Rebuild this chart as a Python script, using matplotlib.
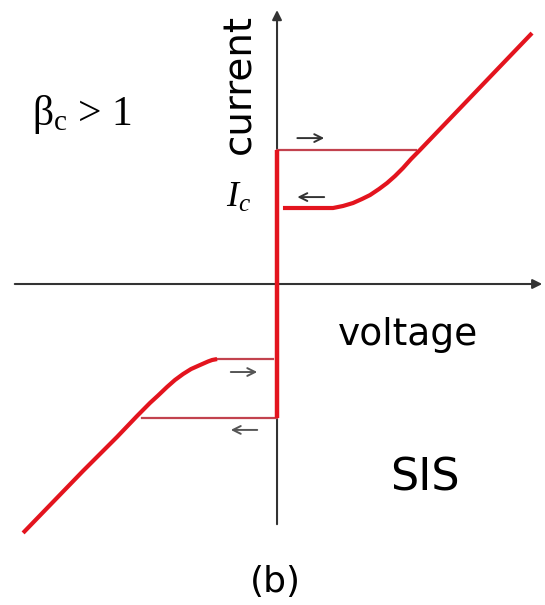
import matplotlib
matplotlib.use("Agg")
import matplotlib.pyplot as plt

plt.rcParams['mathtext.fontset'] = 'custom'
plt.rcParams['mathtext.rm'] = 'Liberation Serif'
plt.rcParams['mathtext.it'] = 'Liberation Serif:italic'

# I-V data of the hysteretic junction (voltage, current in units of Ic)
v_right = [0.044, 0.415, 0.489, 0.563, 0.630, 0.689, 0.756, 0.815, 0.874, 0.933, 0.993, 1.059, 1.889]
i_right = [0.563, 0.563, 0.578, 0.600, 0.630, 0.659, 0.704, 0.748, 0.800, 0.859, 0.926, 0.993, 1.859]

v_left = [-0.444, -0.481, -0.511, -0.570, -0.637, -0.696, -0.756, -0.815, -0.881, -0.941, -1.037, -1.185, -1.437, -1.881]
i_left = [-0.556, -0.563, -0.574, -0.600, -0.630, -0.667, -0.711, -0.763, -0.826, -0.881, -0.978, -1.133, -1.385, -1.844]

# supercurrent branch and switching / retrapping jumps
v_super = [0.0, 0.0]
i_super = [-0.993, 0.993]
v_switch_up = [0.0, 1.03]
i_switch_up = [0.993, 0.993]
v_switch_dn = [-1.0, 0.0]
i_switch_dn = [-0.993, -0.993]
v_retrap_dn = [-0.444, -0.03]
i_retrap_dn = [-0.556, -0.556]

# direction arrows: (v_start, v_end, current)
sweep_arrows = [(0.13, 0.37, 1.081, '#333333'),
                (0.37, 0.13, 0.644, '#333333'),
                (-0.363, -0.126, -0.652, '#555555'),
                (-0.126, -0.363, -1.081, '#555555')]

red = '#e3141e'
thin = '#c2424e'

fig = plt.figure(figsize=(5.45, 6.05), dpi=100)
ax = fig.add_axes([0, 0, 1, 1])
ax.set_xlim(-2.052, 1.985)
ax.set_ylim(-2.378, 2.104)
ax.axis('off')

# axes with arrow heads
ax.annotate('', xy=(1.985, 0), xytext=(-1.963, 0),
            arrowprops=dict(arrowstyle='-|>', lw=1.5, color='#333333', mutation_scale=14), zorder=1)
ax.annotate('', xy=(0, 2.05), xytext=(0, -1.8),
            arrowprops=dict(arrowstyle='-|>', lw=1.5, color='#333333', mutation_scale=14), zorder=1)

ax.plot(v_switch_up, i_switch_up, color=thin, lw=1.6, zorder=2)
ax.plot(v_switch_dn, i_switch_dn, color=thin, lw=1.6, zorder=2)
ax.plot(v_retrap_dn, i_retrap_dn, color=thin, lw=1.6, zorder=2)
ax.plot(v_right, i_right, color=red, lw=3, solid_capstyle='butt', solid_joinstyle='round', zorder=3)
ax.plot(v_left, i_left, color=red, lw=3, solid_capstyle='butt', solid_joinstyle='round', zorder=3)
ax.plot(v_super, i_super, color=red, lw=3.2, solid_capstyle='butt', zorder=3)

for v0, v1, cur, col in sweep_arrows:
    ax.annotate('', xy=(v1, cur), xytext=(v0, cur),
                arrowprops=dict(arrowstyle='->', lw=1.4, color=col, mutation_scale=14))

ax.text(0.440, 0.861, 'current', transform=ax.transAxes, rotation=90,
        ha='center', va='center', fontsize=28)
ax.text(0.620, 0.430, 'voltage', transform=ax.transAxes, ha='left', va='baseline', fontsize=27)
ax.text(0.716, 0.190, 'SIS', transform=ax.transAxes, ha='left', va='baseline', fontsize=32)
ax.text(0.505, 0.021, '(b)', transform=ax.transAxes, ha='center', va='baseline', fontsize=26)
ax.text(0.058, 0.793, r'$\mathrm{\beta_c}$ > 1', transform=ax.transAxes,
        ha='left', va='baseline', fontsize=30, family='Liberation Serif')
ax.text(0.415, 0.658, r'$I_c$', transform=ax.transAxes, ha='left', va='baseline', fontsize=26)

fig.savefig('out.png', dpi=100)
